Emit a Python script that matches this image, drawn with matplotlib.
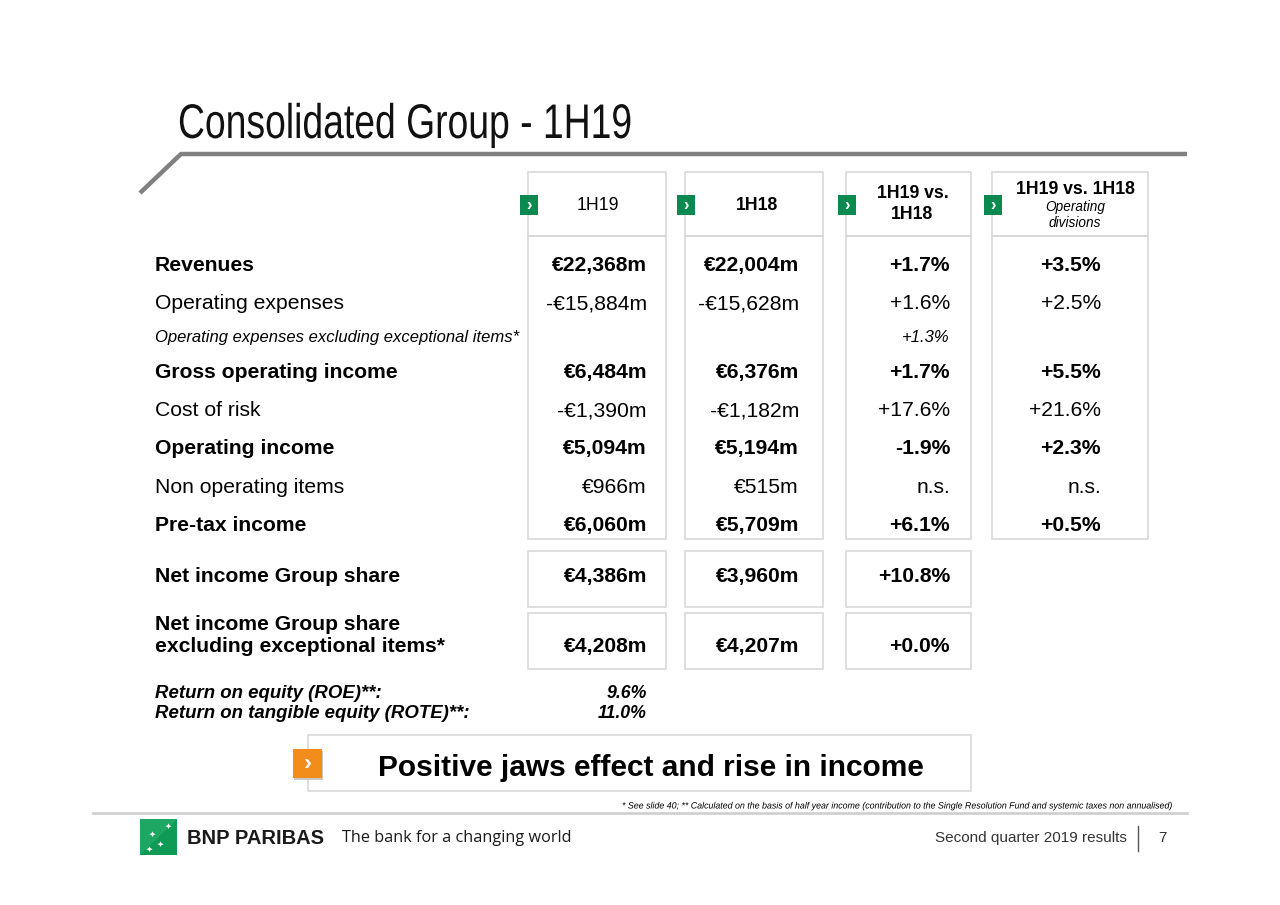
import matplotlib
matplotlib.use("Agg")
import matplotlib.pyplot as plt
from matplotlib.patches import Rectangle, Polygon
from matplotlib.patheffects import AbstractPathEffect
from matplotlib.transforms import Affine2D

plt.rcParams['font.family'] = ['Liberation Sans', 'DejaVu Sans']

# ---------------- data ----------------
title = "Consolidated Group - 1H19"
col_headers = ["1H19", "1H18", "1H19 vs.\n1H18", "1H19 vs. 1H18"]
col_sub = ["", "", "", "Operating\ndivisions"]

row_labels = ["Revenues", "Operating expenses",
              "Operating expenses excluding exceptional items*",
              "Gross operating income", "Cost of risk", "Operating income",
              "Non operating items", "Pre-tax income"]
v_1h19 = ["€22,368m", "-€15,884m", "", "€6,484m", "-€1,390m", "€5,094m", "€966m", "€6,060m"]
v_1h18 = ["€22,004m", "-€15,628m", "", "€6,376m", "-€1,182m", "€5,194m", "€515m", "€5,709m"]
v_var = ["+1.7%", "+1.6%", "+1.3%", "+1.7%", "+17.6%", "-1.9%", "n.s.", "+6.1%"]
v_var_div = ["+3.5%", "+2.5%", "", "+5.5%", "+21.6%", "+2.3%", "n.s.", "+0.5%"]
row_kind = ["bold", "normal", "small", "bold", "normal", "bold", "normal", "bold"]

net_labels = ["Net income Group share", "Net income Group share\nexcluding exceptional items*"]
net_1h19 = ["€4,386m", "€4,208m"]
net_1h18 = ["€3,960m", "€4,207m"]
net_var = ["+10.8%", "+0.0%"]

ret_labels = ["Return on equity (ROE)**:", "Return on tangible equity (ROTE)**:"]
ret_values = ["9.6%", "11.0%"]

banner = "Positive jaws effect and rise in income"
footnote = ("* See slide 40; ** Calculated on the basis of half year income (contribution to the "
            "Single Resolution Fund and systemic taxes non annualised)")
footer_right = "Second quarter 2019 results"
page = "7"


class HScale(AbstractPathEffect):
    """Horizontally condense text glyphs around a display x anchor."""
    def __init__(self, sx, x0):
        super().__init__()
        self.sx, self.x0 = sx, x0

    def draw_path(self, renderer, gc, tpath, affine, rgbFace=None):
        a = affine + Affine2D().translate(-self.x0, 0).scale(self.sx, 1).translate(self.x0, 0)
        renderer.draw_path(gc, tpath, a, rgbFace)


# ---------------- layout ----------------
W, H = 1280, 905
fig = plt.figure(figsize=(W / 100, H / 100), dpi=100)
ax = fig.add_axes([0, 0, 1, 1])
ax.set_xlim(0, W)
ax.set_ylim(H, 0)
ax.axis('off')

GREEN = "#0b8a4f"
BORDER = "#d6d6d6"
FS = 15.2

t_title = ax.text(178, 138, title, fontsize=35, color="#111111", va='baseline', ha='left')
ax.plot([140, 181, 1187], [193, 154, 154], color="#808080", lw=3.2, solid_capstyle='butt')

col_left = [528, 685, 846, 992]
col_right = [666, 823, 971, 1148]
val_right = [647, 799, 950, 1101]
hdr_top, hdr_bot, body_bot = 172, 236, 539

for i in range(4):
    x0, x1 = col_left[i], col_right[i]
    ax.add_patch(Rectangle((x0, hdr_top), x1 - x0, hdr_bot - hdr_top, fill=False,
                           ec=BORDER, lw=1.1))
    ax.add_patch(Rectangle((x0, hdr_bot), x1 - x0, body_bot - hdr_bot, fill=False,
                           ec=BORDER, lw=1.1))
    ax.add_patch(Rectangle((x0 - 8, 195), 18, 20, fc=GREEN, ec='none'))
    ax.text(x0 + 1, 205, "›", color='white', fontsize=12, fontweight='bold',
            ha='center', va='center')
    cx = (x0 + x1) / 2
    if col_sub[i]:
        ax.text(cx + 5, 189, col_headers[i], fontsize=12.7, fontweight='bold',
                ha='center', va='center')
        ax.text(cx + 5, 215, col_sub[i], fontsize=9.8, style='italic',
                ha='center', va='center', linespacing=1.2)
    elif "\n" in col_headers[i]:
        ax.text(cx + 4, 204, col_headers[i], fontsize=12.7, fontweight='bold',
                ha='center', va='center', linespacing=1.3)
    else:
        ax.text(cx + (1 if i == 0 else 3), 205, col_headers[i], fontsize=12.7,
                fontweight='bold' if i == 1 else 'normal', ha='center', va='center')

row_base = [271, 309, 342, 378, 416, 454, 493, 531]
for r, y in enumerate(row_base):
    kind = row_kind[r]
    if kind == "small":
        kw = dict(fontsize=12.0, style='italic')
    elif kind == "bold":
        kw = dict(fontsize=FS, fontweight='bold')
    else:
        kw = dict(fontsize=FS)
    ax.text(155, y, row_labels[r], ha='left', va='baseline', **kw)
    for j, vals in enumerate([v_1h19, v_1h18, v_var, v_var_div]):
        if vals[r]:
            ax.text(val_right[j], y, vals[r], ha='right', va='baseline', **kw)

net_box = [(551, 607), (613, 669)]
net_base = [582, 652]
for r in range(2):
    t, b = net_box[r]
    for i in range(3):
        ax.add_patch(Rectangle((col_left[i], t), col_right[i] - col_left[i], b - t,
                               fill=False, ec=BORDER, lw=1.1))
    kw = dict(fontsize=FS, fontweight='bold')
    ax.text(155, net_base[r], net_labels[r], ha='left', va='baseline', linespacing=1.2, **kw)
    for j, vals in enumerate([net_1h19, net_1h18, net_var]):
        ax.text(val_right[j], net_base[r], vals[r], ha='right', va='baseline', **kw)

ret_base = [698, 718]
for r in range(2):
    ax.text(155, ret_base[r], ret_labels[r], ha='left', va='baseline', fontsize=13.4,
            fontweight='bold', style='italic')
    ax.text(647, ret_base[r], ret_values[r], ha='right', va='baseline', fontsize=12.8,
            fontweight='bold', style='italic')

# banner
ax.add_patch(Rectangle((308, 735), 971 - 308, 56, fill=False, ec=BORDER, lw=1.1))
ax.add_patch(Rectangle((294, 751), 29, 29, fc="#c8c8c8", ec='none'))
ax.add_patch(Rectangle((293, 749), 29, 29, fc="#f28c1a", ec='none'))
ax.text(308, 763, "›", color='white', fontsize=17, fontweight='bold', ha='center', va='center')
ax.text(651, 776, banner, ha='center', va='baseline', fontsize=21.5, fontweight='bold')

# footnote
t_foot = ax.text(1172, 806, footnote, ha='right', va='center', fontsize=6.6, style='italic')
ax.plot([93, 1187], [813, 813], color="#d0d0d0", lw=2)

# logo
ax.add_patch(Rectangle((140, 819), 37, 36, fc="#0f9a55", ec='none'))
ax.add_patch(Polygon([[140, 819], [177, 819], [140, 855]], closed=True, fc="#27b06b",
                     ec='none', alpha=0.6))
for (sx, sy) in [(168, 826), (152, 834), (160, 844), (149, 849)]:
    ax.text(sx, sy, "✦", color='white', fontsize=6, ha='center', va='center',
            family=['DejaVu Sans'])
ax.text(187, 838, "BNP PARIBAS", ha='left', va='center', fontsize=14.5, fontweight='bold',
        color="#1a1a1a")
ax.text(342, 838, "The bank for a changing world", ha='left', va='center', fontsize=11.7,
        color="#1a1a1a", family=['Open Sans', 'DejaVu Sans'])

ax.text(1127, 838, footer_right, ha='right', va='center', fontsize=11, color="#333333")
ax.plot([1138, 1138], [826, 851], color="#555555", lw=1)
ax.text(1162, 838, page, ha='center', va='center', fontsize=11, color="#333333")

# condense title and footnote to the reference's narrow typeface widths
fig.canvas.draw()
r = fig.canvas.get_renderer()
bb = t_title.get_window_extent(r)
t_title.set_path_effects([HScale(454.0 / bb.width, bb.x0)])
bb = t_foot.get_window_extent(r)
t_foot.set_path_effects([HScale(550.0 / bb.width, bb.x1)])

fig.savefig("out.png", dpi=100)
